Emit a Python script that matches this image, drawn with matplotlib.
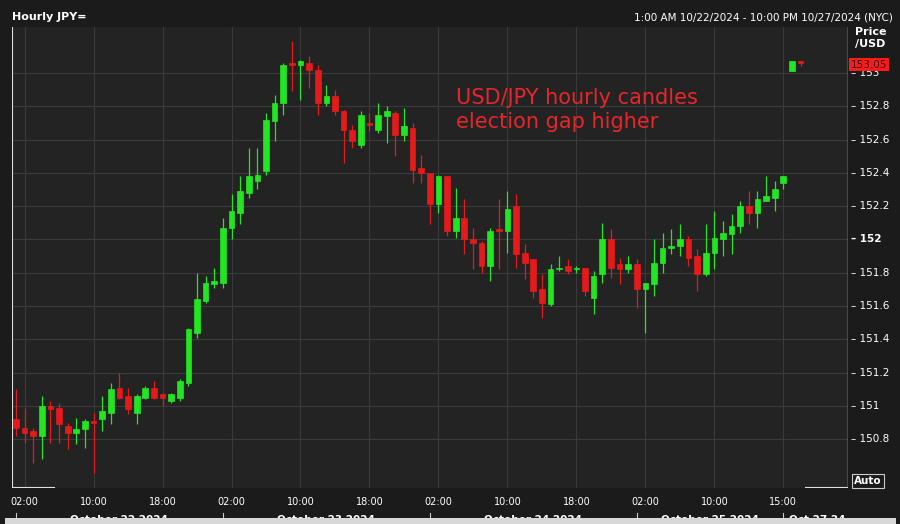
import matplotlib
matplotlib.use("Agg")
import matplotlib.pyplot as plt
from matplotlib.patches import Rectangle

# hourly candles, index 0 = 10/22 01:00 (weekend hours collapsed)
opens = [150.92, 150.87, 150.85, 150.82, 151.00, 150.99, 150.88, 150.84, 150.86, 150.91,
         150.92, 150.96, 151.11, 151.06, 150.96, 151.05, 151.11, 151.07, 151.03, 151.05,
         151.14, 151.44, 151.63, 151.73, 151.74, 152.07, 152.16, 152.28, 152.35, 152.41,
         152.71, 152.82, 153.06, 153.05, 153.06, 153.02, 152.82, 152.86, 152.77, 152.66,
         152.57, 152.70, 152.66, 152.74, 152.76, 152.63, 152.67, 152.43, 152.40, 152.21,
         152.38, 152.05, 152.13, 152.00, 151.98, 151.84, 152.06, 152.05, 152.20, 151.92,
         151.88, 151.70, 151.61, 151.82, 151.84, 151.82, 151.83, 151.65, 151.79, 152.00,
         151.85, 151.82, 151.85, 151.70, 151.73, 151.86, 151.95, 151.96, 152.00, 151.90,
         151.79, 151.92, 152.00, 152.03, 152.08, 152.20, 152.16, 152.23, 152.25, 152.34,
         153.01, 153.07]
highs = [151.10, 150.99, 150.87, 151.06, 151.03, 151.02, 150.90, 150.93, 150.92, 150.96,
         151.06, 151.14, 151.20, 151.11, 151.07, 151.12, 151.15, 151.08, 151.08, 151.16,
         151.47, 151.80, 151.78, 151.83, 152.13, 152.27, 152.38, 152.55, 152.55, 152.76,
         152.87, 153.06, 153.19, 153.08, 153.10, 153.05, 152.93, 152.90, 152.78, 152.69,
         152.77, 152.76, 152.82, 152.80, 152.77, 152.79, 152.70, 152.51, 152.40, 152.39,
         152.38, 152.31, 152.24, 152.07, 151.99, 152.07, 152.24, 152.29, 152.27, 151.97,
         151.88, 151.79, 151.85, 151.90, 151.88, 151.84, 151.83, 151.81, 152.10, 152.06,
         151.89, 151.90, 151.88, 151.74, 152.00, 152.04, 152.06, 152.09, 152.02, 151.94,
         152.09, 152.17, 152.11, 152.15, 152.23, 152.29, 152.29, 152.38, 152.35, 152.38,
         153.07, 153.07]
lows = [150.82, 150.78, 150.66, 150.68, 150.78, 150.78, 150.74, 150.77, 150.75, 150.60,
        150.85, 150.89, 151.04, 150.95, 150.89, 151.04, 151.04, 151.00, 151.02, 151.03,
        151.12, 151.41, 151.62, 151.71, 151.71, 152.00, 152.09, 152.25, 152.30, 152.39,
        152.59, 152.75, 152.89, 152.84, 152.91, 152.75, 152.80, 152.75, 152.46, 152.55,
        152.55, 152.65, 152.64, 152.58, 152.50, 152.59, 152.34, 152.34, 152.09, 152.16,
        152.02, 152.01, 151.91, 151.82, 151.80, 151.75, 151.82, 151.92, 151.83, 151.76,
        151.65, 151.53, 151.60, 151.81, 151.79, 151.80, 151.66, 151.55, 151.74, 151.77,
        151.73, 151.80, 151.59, 151.44, 151.66, 151.80, 151.91, 151.90, 151.84, 151.69,
        151.78, 151.82, 151.90, 151.91, 152.04, 152.09, 152.07, 152.23, 152.17, 152.30,
        153.01, 153.04]
closes = [150.87, 150.84, 150.82, 151.00, 150.98, 150.89, 150.84, 150.86, 150.91, 150.90,
          150.97, 151.10, 151.05, 150.98, 151.06, 151.11, 151.05, 151.05, 151.07, 151.15,
          151.46, 151.64, 151.74, 151.75, 152.07, 152.17, 152.29, 152.38, 152.39, 152.72,
          152.82, 153.05, 153.05, 153.07, 153.02, 152.82, 152.86, 152.77, 152.66, 152.59,
          152.75, 152.69, 152.75, 152.77, 152.63, 152.68, 152.42, 152.40, 152.21, 152.38,
          152.05, 152.13, 152.00, 151.98, 151.84, 152.05, 152.05, 152.18, 151.91, 151.86,
          151.69, 151.62, 151.82, 151.83, 151.81, 151.83, 151.69, 151.78, 152.00, 151.83,
          151.82, 151.85, 151.70, 151.74, 151.86, 151.95, 151.96, 152.00, 151.89, 151.79,
          151.92, 152.01, 152.04, 152.08, 152.20, 152.16, 152.24, 152.26, 152.30, 152.38,
          153.07, 153.06]

y_ticks = [150.8, 151, 151.2, 151.4, 151.6, 151.8, 152, 152.2, 152.4, 152.6, 152.8, 153]
y_labels = ["150.8", "151", "151.2", "151.4", "151.6", "151.8", "152", "152.2",
            "152.4", "152.6", "152.8", "153"]
x_ticks = [1, 9, 17, 25, 33, 41, 49, 57, 65, 73, 81, 89]
x_labels = ["02:00", "10:00", "18:00", "02:00", "10:00", "18:00", "02:00", "10:00",
            "18:00", "02:00", "10:00", "15:00"]
day_edges = [0, 24, 48, 72, 89, 97]
day_labels = ["October 22 2024", "October 23 2024", "October 24 2024",
              "October 25 2024", "Oct 27 24"]
last_price = 153.05

GREEN = "#22e622"
RED = "#e51b1b"
BG = "#232323"
Y0, Y1 = 150.507, 153.276

fig = plt.figure(figsize=(9, 5.24), dpi=100, facecolor="#1b1b1b")
ax = fig.add_axes([12 / 900, 36 / 524, 836 / 900, 461 / 524])
ax.set_facecolor(BG)

for i, (o, h, l, c) in enumerate(zip(opens, highs, lows, closes)):
    col = GREEN if c >= o else RED
    ax.vlines(i, l, h, color=col, lw=0.9, zorder=3)
    bot, top = min(o, c), max(o, c)
    ax.add_patch(Rectangle((i - 0.33, bot), 0.66, max(top - bot, 0.008),
                           facecolor=col, edgecolor=col, lw=0.5, zorder=4))

ax.set_xlim(-0.46, 96.5)
ax.set_ylim(Y0, Y1)
ax.set_xticks(x_ticks)
ax.set_xticklabels([])
ax.set_yticks(y_ticks)
ax.set_yticklabels([])
ax.grid(True, color="#3a3a3a", lw=0.8)
ax.tick_params(length=0)
for s in ax.spines.values():
    s.set_visible(False)
ax.axvline(-0.46, color="#e0e0e0", lw=1.5)
ax.axhline(Y0, xmin=0, xmax=0.05, color="#e0e0e0", lw=1.5)
ax.axhline(Y0, xmin=0.95, xmax=1, color="#e0e0e0", lw=1.5)
ax.axvline(96.5, color="#e0e0e0", lw=1)

# right-hand price labels
for t, lab in zip(y_ticks, y_labels):
    ax.text(1.004, (t - Y0) / (Y1 - Y0), "– " + lab,
            transform=ax.transAxes, ha="left", va="center", fontsize=7.5,
            color="white", fontweight="bold" if lab == "152" else "normal")
ax.text(1.008, 1.0, "Price\n/USD", transform=ax.transAxes, ha="left", va="top",
        fontsize=8, color="white", fontweight="bold", linespacing=1.3)
ax.text(1.003, (last_price - Y0) / (Y1 - Y0), f"{last_price:.2f}",
        transform=ax.transAxes, ha="left", va="center", fontsize=7.5, color="#3a0000",
        bbox=dict(fc="#ff1a1a", ec="none", pad=1.2))
fig.text(868 / 900, 43 / 524, "Auto", ha="center", va="center", fontsize=7.5,
         color="white", fontweight="bold",
         bbox=dict(fc="#1b1b1b", ec="#cccccc", lw=0.8, pad=1.5))

# bottom time axis
for t, lab in zip(x_ticks, x_labels):
    ax.text(t, -0.02, lab, transform=ax.get_xaxis_transform(), ha="center",
            va="top", fontsize=7, color="white")
for a, b, lab in zip(day_edges[:-1], day_edges[1:], day_labels):
    ax.plot([a, a], [-0.055, -0.1], transform=ax.get_xaxis_transform(),
            color="#cccccc", lw=0.8, clip_on=False)
    mid = (a + b) / 2 if lab != "Oct 27 24" else a + 0.6
    ax.text(mid, -0.058, lab, transform=ax.get_xaxis_transform(),
            ha="center" if lab != "Oct 27 24" else "left", va="top",
            fontsize=7.5, color="white", fontweight="bold")

# scrollbar strip at the very bottom
fig.add_artist(Rectangle((0.005, 0), 0.99, 6 / 524, transform=fig.transFigure,
                         facecolor="#d8d8d8", edgecolor="none"))

fig.text(12 / 900, 1 - 17 / 524, "Hourly JPY=", ha="left", va="center",
         fontsize=8, color="white", fontweight="bold")
fig.text(893 / 900, 1 - 17 / 524, "1:00 AM 10/22/2024 - 10:00 PM 10/27/2024 (NYC)",
         ha="right", va="center", fontsize=7.5, color="white")
ax.text(51, 152.78, "USD/JPY hourly candles\nelection gap higher", ha="left",
        va="center", fontsize=15, color="#e8262a", linespacing=1.25)

fig.savefig("out.png", dpi=100, facecolor=fig.get_facecolor())
